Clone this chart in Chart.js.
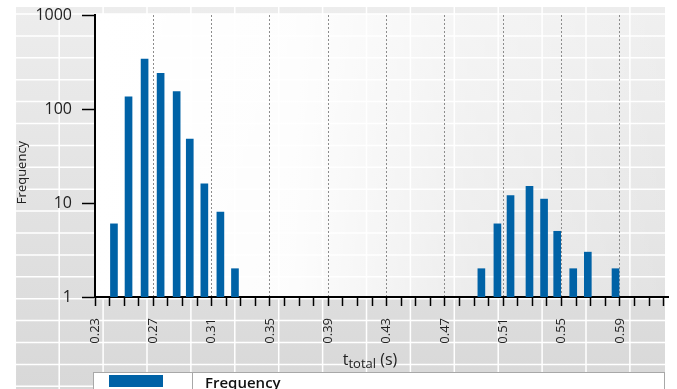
<!DOCTYPE html>
<html>
<head>
<meta charset="utf-8">
<script src="https://cdn.jsdelivr.net/npm/chart.js@4.4.1/dist/chart.umd.min.js"></script>
<style>
  body { margin: 0; background: #fff; }
  canvas { display: block; }
</style>
</head>
<body>
<canvas id="hist" width="677" height="389"></canvas>
<script>
// bin positions (s) and counts, two clusters
var fastTimes = [0.243, 0.253, 0.264, 0.275, 0.286, 0.295, 0.305, 0.316, 0.326];
var fastCounts = [6, 135, 340, 240, 153, 48, 16, 8, 2];
var slowTimes = [0.495, 0.506, 0.515, 0.528, 0.538, 0.547, 0.558, 0.568, 0.587];
var slowCounts = [2, 6, 12, 15, 11, 5, 2, 3, 2];

var xTickLabels = ['0.23', '0.27', '0.31', '0.35', '0.39', '0.43', '0.47', '0.51', '0.55', '0.59'];
var yTickValues = [1, 10, 100, 1000];

var FONT = "'Open Sans', 'Noto Sans', sans-serif";
var BLUE = '#0062a6';

var points = [];
fastTimes.forEach(function (t, i) { points.push({ x: t, y: fastCounts[i] }); });
slowTimes.forEach(function (t, i) { points.push({ x: t, y: slowCounts[i] }); });

// grey cell backdrop, fading plot panel, titles and the boxed legend
var backdrop = {
  id: 'backdrop',
  beforeDraw: function (chart) {
    var ctx = chart.ctx, a = chart.chartArea, h = chart.height;
    ctx.save();
    ctx.fillStyle = '#fff';
    ctx.fillRect(0, 0, chart.width, h);
    var g = ctx.createLinearGradient(0, 7, 0, h);
    g.addColorStop(0, '#ededed');
    g.addColorStop(1, '#d8d8d8');
    ctx.fillStyle = g;
    ctx.fillRect(15, 7, 650, h - 7);
    ctx.strokeStyle = '#fff';
    ctx.lineWidth = 1.5;
    ctx.beginPath();
    for (var x = 15.3; x < 665; x += 43.9) { ctx.moveTo(x, 7); ctx.lineTo(x, h); }
    for (var y = 14; y < h; y += 21.9) { ctx.moveTo(15, y); ctx.lineTo(665, y); }
    ctx.stroke();
    var p = ctx.createLinearGradient(a.left, 0, a.right, 0);
    p.addColorStop(0, 'rgba(255,255,255,1)');
    p.addColorStop(0.35, 'rgba(255,255,255,0.92)');
    p.addColorStop(0.65, 'rgba(255,255,255,0.45)');
    p.addColorStop(1, 'rgba(255,255,255,0.15)');
    ctx.fillStyle = p;
    ctx.fillRect(a.left, a.top - 1, a.right - a.left, a.bottom - a.top + 1);
    ctx.restore();
  },
  afterDraw: function (chart) {
    var ctx = chart.ctx;
    ctx.save();
    ctx.fillStyle = '#222';
    ctx.translate(22.5, 172.5);
    ctx.rotate(-Math.PI / 2);
    ctx.font = '13px ' + FONT;
    ctx.textAlign = 'center';
    ctx.textBaseline = 'middle';
    ctx.fillText('Frequency', 0, 0);
    ctx.restore();

    // x title: t with "total" subscript
    ctx.save();
    ctx.fillStyle = '#222';
    ctx.textBaseline = 'alphabetic';
    var big = '16px ' + FONT, small = '13px ' + FONT;
    ctx.font = big; var w1 = ctx.measureText('t').width, w3 = ctx.measureText(' (s)').width;
    ctx.font = small; var w2 = ctx.measureText('total').width;
    var x0 = 370 - (w1 + w2 + w3) / 2;
    ctx.font = big; ctx.fillText('t', x0, 365);
    ctx.font = small; ctx.fillText('total', x0 + w1, 368);
    ctx.font = big; ctx.fillText(' (s)', x0 + w1 + w2, 365);
    ctx.restore();

    // legend box
    ctx.save();
    ctx.fillStyle = '#fff';
    ctx.fillRect(94, 372, 571, 20);
    ctx.strokeStyle = '#a8a8a8';
    ctx.lineWidth = 1;
    ctx.strokeRect(93.5, 372.5, 571, 20);
    ctx.beginPath(); ctx.moveTo(192.5, 372); ctx.lineTo(192.5, 389); ctx.stroke();
    ctx.fillStyle = BLUE;
    ctx.fillRect(109, 375, 54, 12);
    ctx.fillStyle = '#111';
    ctx.font = '600 15px ' + FONT;
    ctx.textBaseline = 'alphabetic';
    ctx.fillText(chart.data.datasets[0].label, 205, 388);
    ctx.restore();
  }
};

new Chart(document.getElementById('hist'), {
  type: 'bar',
  data: {
    datasets: [{
      label: 'Frequency',
      data: points,
      backgroundColor: BLUE,
      barThickness: 7
    }]
  },
  options: {
    responsive: false,
    animation: false,
    devicePixelRatio: 1,
    layout: { padding: { top: 15, right: 9, left: 0, bottom: 0 } },
    plugins: { legend: { display: false }, tooltip: { enabled: false } },
    scales: {
      x: {
        type: 'linear',
        offset: false,
        min: 0.23,
        max: 0.623,
        afterBuildTicks: function (s) {
          var t = [];
          for (var i = 0; i < 40; i++) t.push({ value: +(0.23 + i * 0.01).toFixed(2) });
          s.ticks = t;
        },
        afterFit: function (s) {
          s.height = 92;
          s.paddingLeft = 0;
          s.paddingRight = 0;
        },
        ticks: {
          autoSkip: false,
          minRotation: 90,
          maxRotation: 90,
          padding: 12,
          color: '#222',
          font: { family: FONT, size: 13 },
          callback: function (v, i) {
            return i % 4 === 0 ? (xTickLabels[i / 4] || '') : '';
          }
        },
        grid: {
          offset: false,
          color: function (c) { return (c.index > 0 && c.index % 4 === 0) ? '#8c8c8c' : 'rgba(0,0,0,0)'; },
          lineWidth: 1,
          tickLength: 9,
          tickColor: '#000',
          tickWidth: 1.5
        },
        border: { color: '#000', width: 2, dash: [2, 2] }
      },
      y: {
        type: 'logarithmic',
        min: 1,
        max: 1000,
        afterBuildTicks: function (s) {
          s.ticks = yTickValues.map(function (v) { return { value: v }; });
        },
        afterFit: function (s) {
          s.width = 95;
          s.paddingTop = 0;
          s.paddingBottom = 0;
        },
        ticks: {
          padding: 10,
          color: '#222',
          font: { family: FONT, size: 16 },
          callback: function (v) { return String(v); }
        },
        grid: { drawOnChartArea: false, tickLength: 13, tickColor: '#000', tickWidth: 1.5 },
        border: { color: '#000', width: 2 }
      }
    }
  },
  plugins: [backdrop]
});
</script>
</body>
</html>
